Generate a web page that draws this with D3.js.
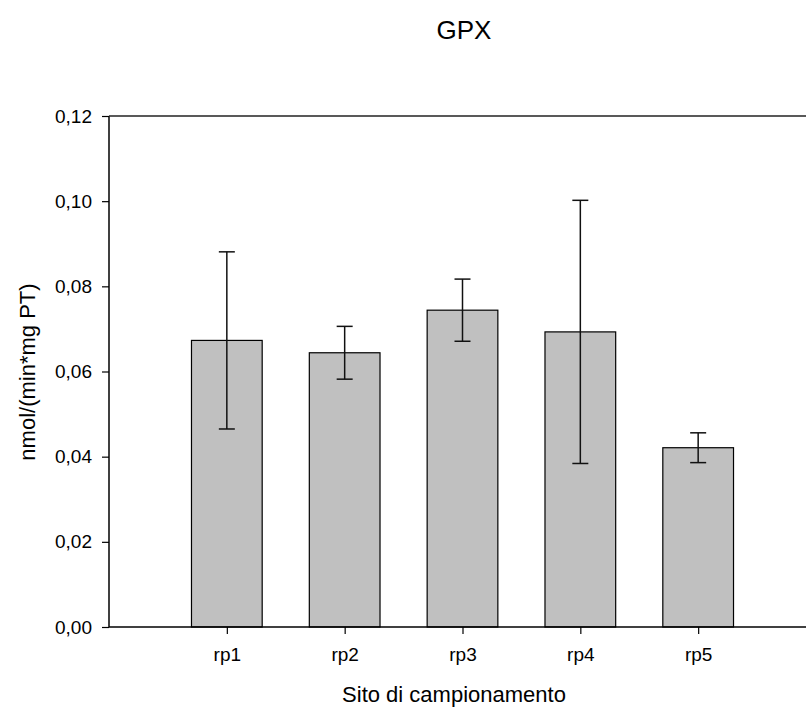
<!DOCTYPE html>
<html>
<head>
<meta charset="utf-8">
<script src="https://cdn.jsdelivr.net/npm/d3@7"></script>
<style>
  html, body { margin: 0; padding: 0; background: #fff; }
  svg { display: block; }
  text { font-family: "Liberation Sans", Arial, sans-serif; fill: #000; }
</style>
</head>
<body>
<svg id="chart" width="806" height="711"></svg>
<script>
// GPX activity by sampling site (mean ± SD)
const sites = ["rp1", "rp2", "rp3", "rp4", "rp5"];
const means = [0.0673, 0.0644, 0.0744, 0.0693, 0.0421];
const errors = [0.0208, 0.0062, 0.0073, 0.0309, 0.0035];
const yTicks = [0, 0.02, 0.04, 0.06, 0.08, 0.10, 0.12];

const svg = d3.select("#chart");
const plotLeft = 109, plotTop = 116, plotBottom = 627, plotRight = 816;

// sites sit at positions 1..5 on a 0..6 axis
const x = d3.scaleLinear().domain([0, sites.length + 1]).range([plotLeft, plotRight]);
const y = d3.scaleLinear().domain([0, 0.12]).range([plotBottom, plotTop]);
const step = x(1) - x(0);
const barW = step * 0.6;

const fmt = d => d3.format(".2f")(d).replace(".", ",");

// bars
svg.append("g").selectAll("rect")
  .data(sites)
  .join("rect")
  .attr("x", (d, i) => x(i + 1) - barW / 2)
  .attr("y", (d, i) => y(means[i]))
  .attr("width", barW)
  .attr("height", (d, i) => y(0) - y(means[i]))
  .attr("fill", "#c0c0c0")
  .attr("stroke", "#000")
  .attr("stroke-width", 1.2);

// error bars
const eb = svg.append("g").attr("stroke", "#111").attr("stroke-width", 1.5);
sites.forEach((s, i) => {
  const cx = x(i + 1);
  const hi = y(means[i] + errors[i]);
  const lo = y(means[i] - errors[i]);
  eb.append("line").attr("x1", cx).attr("x2", cx).attr("y1", hi).attr("y2", lo);
  eb.append("line").attr("x1", cx - 8).attr("x2", cx + 8).attr("y1", hi).attr("y2", hi);
  eb.append("line").attr("x1", cx - 8).attr("x2", cx + 8).attr("y1", lo).attr("y2", lo);
});

// y axis
const yAxis = d3.axisLeft(y).tickValues(yTicks).tickFormat(fmt).tickSize(7).tickPadding(10);
const gy = svg.append("g").attr("transform", `translate(${plotLeft},0)`).call(yAxis);
gy.select(".domain").attr("stroke", "#000").attr("stroke-width", 1.5).attr("d", `M0,${plotTop}V${plotBottom}`);
gy.selectAll(".tick line").attr("stroke", "#000").attr("stroke-width", 1.2);
gy.selectAll(".tick text").style("font-size", "19px").attr("fill", "#000");

// x axis
const xAxis = d3.axisBottom(x).tickValues(d3.range(1, sites.length + 1))
  .tickFormat(d => sites[d - 1]).tickSize(7).tickPadding(14);
const gx = svg.append("g").attr("transform", `translate(0,${plotBottom})`).call(xAxis);
gx.select(".domain").attr("stroke", "#000").attr("stroke-width", 1.5).attr("d", `M${plotLeft},0H${plotRight}`);
gx.selectAll(".tick line").attr("stroke", "#000").attr("stroke-width", 1.2);
gx.selectAll(".tick text").style("font-size", "19px").attr("fill", "#000");

// top frame line
svg.append("line")
  .attr("x1", plotLeft).attr("x2", plotRight).attr("y1", plotTop).attr("y2", plotTop)
  .attr("stroke", "#222").attr("stroke-width", 1.5);

// titles
svg.append("text").attr("x", 464).attr("y", 39).attr("text-anchor", "middle")
  .style("font-size", "26px").text("GPX");
svg.append("text").attr("x", 454).attr("y", 702).attr("text-anchor", "middle")
  .style("font-size", "22px").text("Sito di campionamento");
svg.append("text").attr("transform", "translate(35,372) rotate(-90)")
  .attr("text-anchor", "middle").style("font-size", "22px").text("nmol/(min*mg PT)");
</script>
</body>
</html>
